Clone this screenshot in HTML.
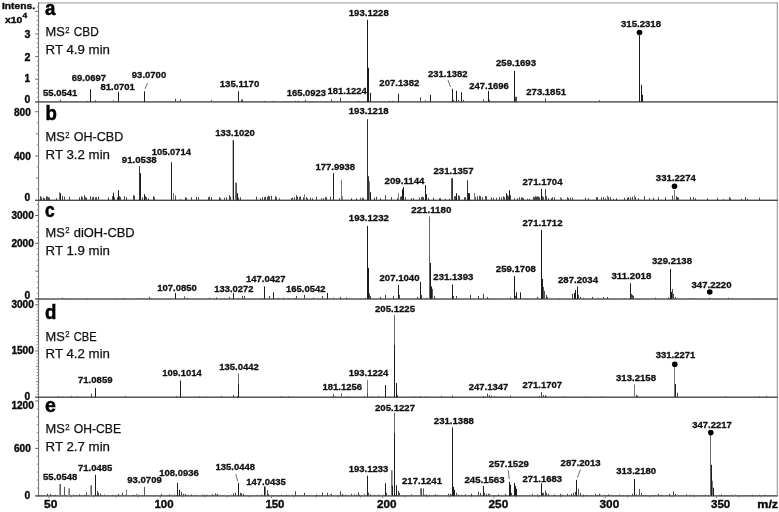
<!DOCTYPE html>
<html><head><meta charset="utf-8"><title>MS2 spectra</title>
<style>
html,body{margin:0;padding:0;background:#fff;}
svg{display:block;}
text{font-family:"Liberation Sans",sans-serif;}
.pl{font-weight:bold;fill:#111;stroke:#111;stroke-width:0.3;}
.al{font-weight:bold;fill:#0a0a0a;stroke:#0a0a0a;stroke-width:0.35;}
.bg{font-weight:bold;fill:#000;stroke:#000;stroke-width:0.5;}
.tt{font-size:13px;fill:#111;stroke:#111;stroke-width:0.25;}
</style></head><body>
<svg width="779" height="512" viewBox="0 0 779 512">
<rect x="0" y="0" width="779" height="512" fill="#fff"/>
<rect x="38" y="2.2" width="739.80" height="1.4" fill="#b4b4b4"/>
<rect x="776.80" y="2.2" width="1" height="493.60" fill="#8c8c8c"/>
<rect x="38.00" y="2.2" width="1.1" height="494.20" fill="#777"/>
<rect x="35.2" y="101.20" width="742.60" height="1.4" fill="#4a4a4a"/>
<rect x="35.2" y="199.60" width="742.60" height="1.4" fill="#4a4a4a"/>
<rect x="35.2" y="298.30" width="742.60" height="1.4" fill="#4a4a4a"/>
<rect x="35.2" y="396.50" width="742.60" height="1.4" fill="#4a4a4a"/>
<rect x="35.2" y="495.20" width="742.60" height="1.4" fill="#4a4a4a"/>
<rect x="36.70" y="96.78" width="1.80" height="1" fill="#8a8a8a"/>
<rect x="36.70" y="92.26" width="1.80" height="1" fill="#8a8a8a"/>
<rect x="36.70" y="87.74" width="1.80" height="1" fill="#8a8a8a"/>
<rect x="36.70" y="83.22" width="1.80" height="1" fill="#8a8a8a"/>
<rect x="35.20" y="78.70" width="3.30" height="1" fill="#666"/>
<rect x="36.70" y="74.18" width="1.80" height="1" fill="#8a8a8a"/>
<rect x="36.70" y="69.66" width="1.80" height="1" fill="#8a8a8a"/>
<rect x="36.70" y="65.14" width="1.80" height="1" fill="#8a8a8a"/>
<rect x="36.70" y="60.62" width="1.80" height="1" fill="#8a8a8a"/>
<rect x="35.20" y="56.10" width="3.30" height="1" fill="#666"/>
<rect x="36.70" y="51.58" width="1.80" height="1" fill="#8a8a8a"/>
<rect x="36.70" y="47.06" width="1.80" height="1" fill="#8a8a8a"/>
<rect x="36.70" y="42.54" width="1.80" height="1" fill="#8a8a8a"/>
<rect x="36.70" y="38.02" width="1.80" height="1" fill="#8a8a8a"/>
<rect x="35.20" y="33.50" width="3.30" height="1" fill="#666"/>
<rect x="36.70" y="28.98" width="1.80" height="1" fill="#8a8a8a"/>
<rect x="36.70" y="24.46" width="1.80" height="1" fill="#8a8a8a"/>
<rect x="36.70" y="19.94" width="1.80" height="1" fill="#8a8a8a"/>
<rect x="36.70" y="15.42" width="1.80" height="1" fill="#8a8a8a"/>
<rect x="35.20" y="10.90" width="3.30" height="1" fill="#666"/>
<rect x="36.70" y="6.38" width="1.80" height="1" fill="#8a8a8a"/>
<rect x="36.70" y="188.64" width="1.80" height="1" fill="#8a8a8a"/>
<rect x="36.00" y="177.58" width="2.50" height="1" fill="#777"/>
<rect x="36.70" y="166.52" width="1.80" height="1" fill="#8a8a8a"/>
<rect x="35.20" y="155.46" width="3.30" height="1" fill="#666"/>
<rect x="36.70" y="144.40" width="1.80" height="1" fill="#8a8a8a"/>
<rect x="36.00" y="133.34" width="2.50" height="1" fill="#777"/>
<rect x="36.70" y="122.28" width="1.80" height="1" fill="#8a8a8a"/>
<rect x="35.20" y="111.22" width="3.30" height="1" fill="#666"/>
<rect x="36.70" y="292.84" width="1.80" height="1" fill="#8a8a8a"/>
<rect x="36.70" y="287.28" width="1.80" height="1" fill="#8a8a8a"/>
<rect x="36.70" y="281.72" width="1.80" height="1" fill="#8a8a8a"/>
<rect x="36.70" y="276.16" width="1.80" height="1" fill="#8a8a8a"/>
<rect x="35.20" y="270.60" width="3.30" height="1" fill="#666"/>
<rect x="36.70" y="265.04" width="1.80" height="1" fill="#8a8a8a"/>
<rect x="36.70" y="259.48" width="1.80" height="1" fill="#8a8a8a"/>
<rect x="36.70" y="253.92" width="1.80" height="1" fill="#8a8a8a"/>
<rect x="36.70" y="248.36" width="1.80" height="1" fill="#8a8a8a"/>
<rect x="35.20" y="242.80" width="3.30" height="1" fill="#666"/>
<rect x="36.70" y="237.24" width="1.80" height="1" fill="#8a8a8a"/>
<rect x="36.70" y="231.68" width="1.80" height="1" fill="#8a8a8a"/>
<rect x="36.70" y="226.12" width="1.80" height="1" fill="#8a8a8a"/>
<rect x="36.70" y="220.56" width="1.80" height="1" fill="#8a8a8a"/>
<rect x="35.20" y="215.00" width="3.30" height="1" fill="#666"/>
<rect x="36.70" y="209.44" width="1.80" height="1" fill="#8a8a8a"/>
<rect x="36.70" y="203.88" width="1.80" height="1" fill="#8a8a8a"/>
<rect x="36.70" y="393.52" width="1.80" height="1" fill="#8a8a8a"/>
<rect x="36.70" y="390.45" width="1.80" height="1" fill="#8a8a8a"/>
<rect x="36.70" y="387.37" width="1.80" height="1" fill="#8a8a8a"/>
<rect x="36.70" y="384.29" width="1.80" height="1" fill="#8a8a8a"/>
<rect x="36.00" y="381.22" width="2.50" height="1" fill="#777"/>
<rect x="36.70" y="378.14" width="1.80" height="1" fill="#8a8a8a"/>
<rect x="36.70" y="375.06" width="1.80" height="1" fill="#8a8a8a"/>
<rect x="36.70" y="371.99" width="1.80" height="1" fill="#8a8a8a"/>
<rect x="36.70" y="368.91" width="1.80" height="1" fill="#8a8a8a"/>
<rect x="36.00" y="365.83" width="2.50" height="1" fill="#777"/>
<rect x="36.70" y="362.76" width="1.80" height="1" fill="#8a8a8a"/>
<rect x="36.70" y="359.68" width="1.80" height="1" fill="#8a8a8a"/>
<rect x="36.70" y="356.60" width="1.80" height="1" fill="#8a8a8a"/>
<rect x="36.70" y="353.53" width="1.80" height="1" fill="#8a8a8a"/>
<rect x="35.20" y="350.45" width="3.30" height="1" fill="#666"/>
<rect x="36.70" y="347.37" width="1.80" height="1" fill="#8a8a8a"/>
<rect x="36.70" y="344.30" width="1.80" height="1" fill="#8a8a8a"/>
<rect x="36.70" y="341.22" width="1.80" height="1" fill="#8a8a8a"/>
<rect x="36.70" y="338.14" width="1.80" height="1" fill="#8a8a8a"/>
<rect x="36.00" y="335.07" width="2.50" height="1" fill="#777"/>
<rect x="36.70" y="331.99" width="1.80" height="1" fill="#8a8a8a"/>
<rect x="36.70" y="328.91" width="1.80" height="1" fill="#8a8a8a"/>
<rect x="36.70" y="325.84" width="1.80" height="1" fill="#8a8a8a"/>
<rect x="36.70" y="322.76" width="1.80" height="1" fill="#8a8a8a"/>
<rect x="36.00" y="319.68" width="2.50" height="1" fill="#777"/>
<rect x="36.70" y="316.61" width="1.80" height="1" fill="#8a8a8a"/>
<rect x="36.70" y="313.53" width="1.80" height="1" fill="#8a8a8a"/>
<rect x="36.70" y="310.45" width="1.80" height="1" fill="#8a8a8a"/>
<rect x="36.70" y="307.38" width="1.80" height="1" fill="#8a8a8a"/>
<rect x="35.20" y="304.30" width="3.30" height="1" fill="#666"/>
<rect x="36.70" y="301.22" width="1.80" height="1" fill="#8a8a8a"/>
<rect x="36.70" y="487.40" width="1.80" height="1" fill="#8a8a8a"/>
<rect x="36.70" y="479.50" width="1.80" height="1" fill="#8a8a8a"/>
<rect x="36.70" y="471.60" width="1.80" height="1" fill="#8a8a8a"/>
<rect x="36.70" y="463.70" width="1.80" height="1" fill="#8a8a8a"/>
<rect x="36.70" y="455.80" width="1.80" height="1" fill="#8a8a8a"/>
<rect x="35.20" y="447.90" width="3.30" height="1" fill="#666"/>
<rect x="36.70" y="440.00" width="1.80" height="1" fill="#8a8a8a"/>
<rect x="36.70" y="432.10" width="1.80" height="1" fill="#8a8a8a"/>
<rect x="36.70" y="424.20" width="1.80" height="1" fill="#8a8a8a"/>
<rect x="36.70" y="416.30" width="1.80" height="1" fill="#8a8a8a"/>
<rect x="36.70" y="408.40" width="1.80" height="1" fill="#8a8a8a"/>
<rect x="35.20" y="400.50" width="3.30" height="1" fill="#666"/>
<rect x="48.50" y="496.30" width="1" height="1.8" fill="#777"/>
<rect x="70.75" y="496.30" width="1" height="1.2" fill="#777"/>
<rect x="93.00" y="496.30" width="1" height="1.2" fill="#777"/>
<rect x="115.25" y="496.30" width="1" height="1.2" fill="#777"/>
<rect x="137.50" y="496.30" width="1" height="1.2" fill="#777"/>
<rect x="159.75" y="496.30" width="1" height="1.8" fill="#777"/>
<rect x="182.00" y="496.30" width="1" height="1.2" fill="#777"/>
<rect x="204.25" y="496.30" width="1" height="1.2" fill="#777"/>
<rect x="226.50" y="496.30" width="1" height="1.2" fill="#777"/>
<rect x="248.75" y="496.30" width="1" height="1.2" fill="#777"/>
<rect x="271.00" y="496.30" width="1" height="1.8" fill="#777"/>
<rect x="293.25" y="496.30" width="1" height="1.2" fill="#777"/>
<rect x="315.50" y="496.30" width="1" height="1.2" fill="#777"/>
<rect x="337.75" y="496.30" width="1" height="1.2" fill="#777"/>
<rect x="360.00" y="496.30" width="1" height="1.2" fill="#777"/>
<rect x="382.25" y="496.30" width="1" height="1.8" fill="#777"/>
<rect x="404.50" y="496.30" width="1" height="1.2" fill="#777"/>
<rect x="426.75" y="496.30" width="1" height="1.2" fill="#777"/>
<rect x="449.00" y="496.30" width="1" height="1.2" fill="#777"/>
<rect x="471.25" y="496.30" width="1" height="1.2" fill="#777"/>
<rect x="493.50" y="496.30" width="1" height="1.8" fill="#777"/>
<rect x="515.75" y="496.30" width="1" height="1.2" fill="#777"/>
<rect x="538.00" y="496.30" width="1" height="1.2" fill="#777"/>
<rect x="560.25" y="496.30" width="1" height="1.2" fill="#777"/>
<rect x="582.50" y="496.30" width="1" height="1.2" fill="#777"/>
<rect x="604.75" y="496.30" width="1" height="1.8" fill="#777"/>
<rect x="627.00" y="496.30" width="1" height="1.2" fill="#777"/>
<rect x="649.25" y="496.30" width="1" height="1.2" fill="#777"/>
<rect x="671.50" y="496.30" width="1" height="1.2" fill="#777"/>
<rect x="693.75" y="496.30" width="1" height="1.2" fill="#777"/>
<rect x="716.00" y="496.30" width="1" height="1.8" fill="#777"/>
<rect x="738.25" y="496.30" width="1" height="1.2" fill="#777"/>
<rect x="760.50" y="496.30" width="1" height="1.2" fill="#777"/>
<text x="2.00" y="9.10" textLength="33.00" lengthAdjust="spacingAndGlyphs" class="al" font-size="9.3">Intens.</text>
<text x="5.00" y="23.40" textLength="17.40" lengthAdjust="spacingAndGlyphs" class="al" font-size="9.5">x10</text>
<text x="22.60" y="18.20" textLength="4.60" lengthAdjust="spacingAndGlyphs" class="al" font-size="6.8">4</text>
<text x="24.40" y="37.60" textLength="6.00" lengthAdjust="spacingAndGlyphs" class="al" font-size="10.0">3</text>
<text x="24.40" y="60.50" textLength="6.00" lengthAdjust="spacingAndGlyphs" class="al" font-size="10.0">2</text>
<text x="24.60" y="82.30" textLength="5.60" lengthAdjust="spacingAndGlyphs" class="al" font-size="10.0">1</text>
<text x="24.50" y="102.80" textLength="5.80" lengthAdjust="spacingAndGlyphs" class="al" font-size="10.0">0</text>
<text x="14.00" y="115.70" textLength="16.80" lengthAdjust="spacingAndGlyphs" class="al" font-size="10.0">800</text>
<text x="14.00" y="159.50" textLength="16.80" lengthAdjust="spacingAndGlyphs" class="al" font-size="10.0">400</text>
<text x="24.60" y="201.00" textLength="5.70" lengthAdjust="spacingAndGlyphs" class="al" font-size="10.0">0</text>
<text x="11.40" y="218.70" textLength="22.40" lengthAdjust="spacingAndGlyphs" class="al" font-size="10.0">3000</text>
<text x="11.40" y="246.80" textLength="22.40" lengthAdjust="spacingAndGlyphs" class="al" font-size="10.0">2000</text>
<text x="24.60" y="298.80" textLength="5.70" lengthAdjust="spacingAndGlyphs" class="al" font-size="10.0">0</text>
<text x="11.40" y="308.10" textLength="22.40" lengthAdjust="spacingAndGlyphs" class="al" font-size="10.0">3000</text>
<text x="11.40" y="354.30" textLength="22.40" lengthAdjust="spacingAndGlyphs" class="al" font-size="10.0">1500</text>
<text x="24.60" y="399.60" textLength="5.70" lengthAdjust="spacingAndGlyphs" class="al" font-size="10.0">0</text>
<text x="11.40" y="408.80" textLength="22.40" lengthAdjust="spacingAndGlyphs" class="al" font-size="10.0">1200</text>
<text x="14.00" y="451.80" textLength="16.80" lengthAdjust="spacingAndGlyphs" class="al" font-size="10.0">600</text>
<text x="24.60" y="499.00" textLength="5.70" lengthAdjust="spacingAndGlyphs" class="al" font-size="10.0">0</text>
<text x="44.10" y="508.10" textLength="13.30" lengthAdjust="spacingAndGlyphs" class="al" font-size="11.0">50</text>
<text x="154.50" y="508.10" textLength="19.10" lengthAdjust="spacingAndGlyphs" class="al" font-size="11.0">100</text>
<text x="265.40" y="508.10" textLength="19.10" lengthAdjust="spacingAndGlyphs" class="al" font-size="11.0">150</text>
<text x="376.90" y="508.10" textLength="19.50" lengthAdjust="spacingAndGlyphs" class="al" font-size="11.0">200</text>
<text x="488.50" y="508.10" textLength="19.80" lengthAdjust="spacingAndGlyphs" class="al" font-size="11.0">250</text>
<text x="599.50" y="508.10" textLength="19.70" lengthAdjust="spacingAndGlyphs" class="al" font-size="11.0">300</text>
<text x="711.00" y="508.10" textLength="19.30" lengthAdjust="spacingAndGlyphs" class="al" font-size="11.0">350</text>
<text x="757.30" y="508.00" textLength="20.80" lengthAdjust="spacingAndGlyphs" class="al" font-size="10.8">m/z</text>
<text x="45.00" y="15.40" textLength="10.40" lengthAdjust="spacingAndGlyphs" class="bg" font-size="20">a</text>
<text x="45.6" y="35.80" textLength="19.2" lengthAdjust="spacingAndGlyphs" class="tt">MS</text>
<text x="65.2" y="32.50" textLength="4.3" lengthAdjust="spacingAndGlyphs" class="tt" style="font-size:9px">2</text>
<text x="73.8" y="35.80" textLength="25.00" lengthAdjust="spacingAndGlyphs" class="tt">CBD</text>
<text x="45.6" y="54.20" textLength="64.4" lengthAdjust="spacingAndGlyphs" class="tt">RT 4.9 min</text>
<text x="45.40" y="120.00" textLength="11.40" lengthAdjust="spacingAndGlyphs" class="bg" font-size="20">b</text>
<text x="45.6" y="141.20" textLength="19.2" lengthAdjust="spacingAndGlyphs" class="tt">MS</text>
<text x="65.2" y="137.90" textLength="4.3" lengthAdjust="spacingAndGlyphs" class="tt" style="font-size:9px">2</text>
<text x="73.8" y="141.20" textLength="49.50" lengthAdjust="spacingAndGlyphs" class="tt">OH-CBD</text>
<text x="45.6" y="159.00" textLength="64.4" lengthAdjust="spacingAndGlyphs" class="tt">RT 3.2 min</text>
<text x="45.00" y="216.80" textLength="9.70" lengthAdjust="spacingAndGlyphs" class="bg" font-size="20">c</text>
<text x="45.6" y="236.70" textLength="19.2" lengthAdjust="spacingAndGlyphs" class="tt">MS</text>
<text x="65.2" y="233.40" textLength="4.3" lengthAdjust="spacingAndGlyphs" class="tt" style="font-size:9px">2</text>
<text x="73.8" y="236.70" textLength="60.90" lengthAdjust="spacingAndGlyphs" class="tt">diOH-CBD</text>
<text x="45.6" y="255.00" textLength="64.4" lengthAdjust="spacingAndGlyphs" class="tt">RT 1.9 min</text>
<text x="45.00" y="319.30" textLength="11.40" lengthAdjust="spacingAndGlyphs" class="bg" font-size="20">d</text>
<text x="45.6" y="340.50" textLength="19.2" lengthAdjust="spacingAndGlyphs" class="tt">MS</text>
<text x="65.2" y="337.20" textLength="4.3" lengthAdjust="spacingAndGlyphs" class="tt" style="font-size:9px">2</text>
<text x="73.8" y="340.50" textLength="22.90" lengthAdjust="spacingAndGlyphs" class="tt">CBE</text>
<text x="45.6" y="358.30" textLength="64.4" lengthAdjust="spacingAndGlyphs" class="tt">RT 4.2 min</text>
<text x="45.00" y="412.40" textLength="10.90" lengthAdjust="spacingAndGlyphs" class="bg" font-size="20">e</text>
<text x="45.6" y="432.80" textLength="19.2" lengthAdjust="spacingAndGlyphs" class="tt">MS</text>
<text x="65.2" y="429.50" textLength="4.3" lengthAdjust="spacingAndGlyphs" class="tt" style="font-size:9px">2</text>
<text x="73.8" y="432.80" textLength="47.20" lengthAdjust="spacingAndGlyphs" class="tt">OH-CBE</text>
<text x="45.6" y="451.20" textLength="64.4" lengthAdjust="spacingAndGlyphs" class="tt">RT 2.7 min</text>
<rect x="60" y="99.80" width="1" height="2.00" fill="#484848"/>
<rect x="87" y="100.80" width="1" height="1.00" fill="#484848"/>
<rect x="90" y="89.30" width="1" height="12.50" fill="#1c1c1c"/>
<rect x="95" y="100.30" width="1" height="1.50" fill="#484848"/>
<rect x="113" y="100.30" width="1" height="1.50" fill="#484848"/>
<rect x="118" y="91.80" width="1" height="10.00" fill="#1c1c1c"/>
<rect x="144" y="91.30" width="1" height="10.50" fill="#1c1c1c"/>
<rect x="175" y="98.80" width="1" height="3.00" fill="#484848"/>
<rect x="180" y="99.30" width="1" height="2.50" fill="#484848"/>
<rect x="211" y="100.30" width="1" height="1.50" fill="#484848"/>
<rect x="238" y="91.30" width="1" height="10.50" fill="#1c1c1c"/>
<rect x="241" y="99.80" width="1" height="2.00" fill="#484848"/>
<rect x="242" y="99.30" width="1" height="2.50" fill="#484848"/>
<rect x="264" y="100.80" width="1" height="1.00" fill="#484848"/>
<rect x="273" y="100.80" width="1" height="1.00" fill="#484848"/>
<rect x="295" y="100.80" width="1" height="1.00" fill="#484848"/>
<rect x="298" y="100.80" width="1" height="1.00" fill="#484848"/>
<rect x="305" y="99.80" width="1" height="2.00" fill="#484848"/>
<rect x="331" y="99.30" width="1" height="2.50" fill="#484848"/>
<rect x="340" y="97.80" width="1" height="4.00" fill="#484848"/>
<rect x="358" y="100.80" width="1" height="1.00" fill="#484848"/>
<rect x="367" y="19.80" width="1" height="82.00" fill="#1c1c1c"/>
<rect x="368" y="67.80" width="1" height="34.00" fill="#1c1c1c"/>
<rect x="370" y="92.80" width="1" height="9.00" fill="#1c1c1c"/>
<rect x="389" y="100.80" width="1" height="1.00" fill="#484848"/>
<rect x="392" y="100.80" width="1" height="1.00" fill="#484848"/>
<rect x="398" y="93.80" width="1" height="8.00" fill="#1c1c1c"/>
<rect x="420" y="97.30" width="1" height="4.50" fill="#484848"/>
<rect x="425" y="100.30" width="1" height="1.50" fill="#484848"/>
<rect x="430" y="94.80" width="1" height="7.00" fill="#1c1c1c"/>
<rect x="452" y="88.80" width="1" height="13.00" fill="#1c1c1c"/>
<rect x="453" y="99.80" width="1" height="2.00" fill="#484848"/>
<rect x="456" y="90.80" width="1" height="11.00" fill="#1c1c1c"/>
<rect x="458" y="99.80" width="1" height="2.00" fill="#484848"/>
<rect x="461" y="92.30" width="1" height="9.50" fill="#1c1c1c"/>
<rect x="463" y="99.80" width="1" height="2.00" fill="#484848"/>
<rect x="483" y="99.30" width="1" height="2.50" fill="#484848"/>
<rect x="488" y="90.80" width="1" height="11.00" fill="#1c1c1c"/>
<rect x="489" y="99.80" width="1" height="2.00" fill="#484848"/>
<rect x="514" y="70.80" width="1" height="31.00" fill="#1c1c1c"/>
<rect x="515" y="96.80" width="1" height="5.00" fill="#484848"/>
<rect x="516" y="96.80" width="1" height="5.00" fill="#484848"/>
<rect x="545" y="98.30" width="1" height="3.50" fill="#484848"/>
<rect x="599" y="100.30" width="1" height="1.50" fill="#484848"/>
<rect x="639" y="35.30" width="1" height="66.50" fill="#1c1c1c"/>
<rect x="641" y="84.80" width="1" height="17.00" fill="#1c1c1c"/>
<rect x="642" y="94.80" width="1" height="7.00" fill="#1c1c1c"/>
<text x="43.00" y="95.50" textLength="34.30" lengthAdjust="spacingAndGlyphs" class="pl" font-size="9.6">55.0541</text>
<text x="71.80" y="80.50" textLength="34.30" lengthAdjust="spacingAndGlyphs" class="pl" font-size="9.6">69.0697</text>
<text x="100.50" y="89.50" textLength="34.40" lengthAdjust="spacingAndGlyphs" class="pl" font-size="9.6">81.0701</text>
<text x="131.80" y="77.50" textLength="34.40" lengthAdjust="spacingAndGlyphs" class="pl" font-size="9.6">93.0700</text>
<line x1="147.50" y1="83.00" x2="145.00" y2="88.80" stroke="#333" stroke-width="0.7"/>
<text x="219.70" y="87.00" textLength="39.60" lengthAdjust="spacingAndGlyphs" class="pl" font-size="9.6">135.1170</text>
<text x="286.70" y="96.20" textLength="39.30" lengthAdjust="spacingAndGlyphs" class="pl" font-size="9.6">165.0923</text>
<text x="327.50" y="94.20" textLength="39.30" lengthAdjust="spacingAndGlyphs" class="pl" font-size="9.6">181.1224</text>
<text x="348.80" y="16.20" textLength="39.90" lengthAdjust="spacingAndGlyphs" class="pl" font-size="9.6">193.1228</text>
<text x="379.30" y="85.80" textLength="40.00" lengthAdjust="spacingAndGlyphs" class="pl" font-size="9.6">207.1382</text>
<text x="428.00" y="76.80" textLength="39.60" lengthAdjust="spacingAndGlyphs" class="pl" font-size="9.6">231.1382</text>
<line x1="448.00" y1="80.00" x2="450.50" y2="87.00" stroke="#333" stroke-width="0.7"/>
<text x="469.30" y="89.00" textLength="39.50" lengthAdjust="spacingAndGlyphs" class="pl" font-size="9.6">247.1696</text>
<text x="496.00" y="66.30" textLength="40.00" lengthAdjust="spacingAndGlyphs" class="pl" font-size="9.6">259.1693</text>
<text x="526.30" y="94.50" textLength="39.70" lengthAdjust="spacingAndGlyphs" class="pl" font-size="9.6">273.1851</text>
<text x="621.00" y="26.80" textLength="40.00" lengthAdjust="spacingAndGlyphs" class="pl" font-size="9.6">315.2318</text>
<circle cx="639.50" cy="32.50" r="2.8" fill="#000"/>
<rect x="40" y="196.20" width="1" height="4.00" fill="#484848"/>
<rect x="41" y="197.20" width="1" height="3.00" fill="#484848"/>
<rect x="43" y="197.70" width="1" height="2.50" fill="#484848"/>
<rect x="44" y="198.20" width="1" height="2.00" fill="#484848"/>
<rect x="46" y="196.20" width="1" height="4.00" fill="#484848"/>
<rect x="47" y="196.70" width="1" height="3.50" fill="#484848"/>
<rect x="48" y="197.20" width="1" height="3.00" fill="#484848"/>
<rect x="49" y="197.70" width="1" height="2.50" fill="#484848"/>
<rect x="56" y="198.20" width="1" height="2.00" fill="#484848"/>
<rect x="59" y="192.20" width="1" height="8.00" fill="#777"/>
<rect x="60" y="193.20" width="1" height="7.00" fill="#1c1c1c"/>
<rect x="62" y="195.70" width="1" height="4.50" fill="#484848"/>
<rect x="64" y="196.70" width="1" height="3.50" fill="#484848"/>
<rect x="69" y="196.70" width="1" height="3.50" fill="#484848"/>
<rect x="79" y="197.20" width="1" height="3.00" fill="#484848"/>
<rect x="81" y="196.20" width="1" height="4.00" fill="#484848"/>
<rect x="82" y="197.20" width="1" height="3.00" fill="#484848"/>
<rect x="84" y="195.20" width="1" height="5.00" fill="#484848"/>
<rect x="85" y="197.20" width="1" height="3.00" fill="#484848"/>
<rect x="86" y="197.70" width="1" height="2.50" fill="#484848"/>
<rect x="90" y="196.20" width="1" height="4.00" fill="#484848"/>
<rect x="92" y="197.20" width="1" height="3.00" fill="#484848"/>
<rect x="93" y="196.70" width="1" height="3.50" fill="#484848"/>
<rect x="95" y="197.20" width="1" height="3.00" fill="#484848"/>
<rect x="96" y="197.20" width="1" height="3.00" fill="#484848"/>
<rect x="98" y="196.70" width="1" height="3.50" fill="#484848"/>
<rect x="108" y="197.20" width="1" height="3.00" fill="#484848"/>
<rect x="112" y="196.20" width="1" height="4.00" fill="#484848"/>
<rect x="113" y="192.70" width="1" height="7.50" fill="#1c1c1c"/>
<rect x="114" y="197.20" width="1" height="3.00" fill="#484848"/>
<rect x="117" y="197.20" width="1" height="3.00" fill="#484848"/>
<rect x="118" y="190.20" width="1" height="10.00" fill="#1c1c1c"/>
<rect x="119" y="196.20" width="1" height="4.00" fill="#484848"/>
<rect x="120" y="197.20" width="1" height="3.00" fill="#484848"/>
<rect x="124" y="196.20" width="1" height="4.00" fill="#484848"/>
<rect x="126" y="197.20" width="1" height="3.00" fill="#484848"/>
<rect x="133" y="195.20" width="1" height="5.00" fill="#484848"/>
<rect x="134" y="195.70" width="1" height="4.50" fill="#484848"/>
<rect x="139" y="166.20" width="1" height="34.00" fill="#333"/>
<rect x="140" y="173.20" width="1" height="27.00" fill="#1c1c1c"/>
<rect x="142" y="197.20" width="1" height="3.00" fill="#484848"/>
<rect x="144" y="194.20" width="1" height="6.00" fill="#1c1c1c"/>
<rect x="145" y="196.20" width="1" height="4.00" fill="#484848"/>
<rect x="146" y="197.20" width="1" height="3.00" fill="#484848"/>
<rect x="148" y="198.20" width="1" height="2.00" fill="#484848"/>
<rect x="153" y="196.20" width="1" height="4.00" fill="#484848"/>
<rect x="154" y="197.20" width="1" height="3.00" fill="#484848"/>
<rect x="171" y="162.20" width="1" height="38.00" fill="#222"/>
<rect x="173" y="193.20" width="1" height="7.00" fill="#777"/>
<rect x="175" y="195.20" width="1" height="5.00" fill="#777"/>
<rect x="175" y="197.20" width="1" height="3.00" fill="#484848"/>
<rect x="180" y="199.20" width="1" height="1.00" fill="#484848"/>
<rect x="185" y="197.20" width="1" height="3.00" fill="#484848"/>
<rect x="186" y="197.70" width="1" height="2.50" fill="#484848"/>
<rect x="191" y="197.20" width="1" height="3.00" fill="#484848"/>
<rect x="196" y="196.70" width="1" height="3.50" fill="#484848"/>
<rect x="198" y="197.20" width="1" height="3.00" fill="#484848"/>
<rect x="208" y="197.20" width="1" height="3.00" fill="#484848"/>
<rect x="209" y="196.70" width="1" height="3.50" fill="#484848"/>
<rect x="211" y="197.20" width="1" height="3.00" fill="#484848"/>
<rect x="219" y="197.20" width="1" height="3.00" fill="#484848"/>
<rect x="220" y="198.20" width="1" height="2.00" fill="#484848"/>
<rect x="224" y="197.70" width="1" height="2.50" fill="#484848"/>
<rect x="226" y="197.20" width="1" height="3.00" fill="#484848"/>
<rect x="229" y="195.20" width="1" height="5.00" fill="#484848"/>
<rect x="230" y="196.70" width="1" height="3.50" fill="#484848"/>
<rect x="232" y="197.20" width="1" height="3.00" fill="#484848"/>
<rect x="232" y="140.20" width="1" height="60.00" fill="#bbb"/>
<rect x="233" y="140.20" width="1" height="60.00" fill="#222"/>
<rect x="235" y="182.70" width="1" height="17.50" fill="#777"/>
<rect x="236" y="182.70" width="1" height="17.50" fill="#555"/>
<rect x="237" y="193.20" width="1" height="7.00" fill="#1c1c1c"/>
<rect x="238" y="197.70" width="1" height="2.50" fill="#484848"/>
<rect x="240" y="197.20" width="1" height="3.00" fill="#484848"/>
<rect x="256" y="196.70" width="1" height="3.50" fill="#484848"/>
<rect x="260" y="198.20" width="1" height="2.00" fill="#484848"/>
<rect x="262" y="197.20" width="1" height="3.00" fill="#484848"/>
<rect x="264" y="197.20" width="1" height="3.00" fill="#484848"/>
<rect x="265" y="196.70" width="1" height="3.50" fill="#484848"/>
<rect x="267" y="197.20" width="1" height="3.00" fill="#484848"/>
<rect x="268" y="195.70" width="1" height="4.50" fill="#484848"/>
<rect x="269" y="196.20" width="1" height="4.00" fill="#484848"/>
<rect x="271" y="195.70" width="1" height="4.50" fill="#484848"/>
<rect x="275" y="196.20" width="1" height="4.00" fill="#484848"/>
<rect x="276" y="197.20" width="1" height="3.00" fill="#484848"/>
<rect x="279" y="198.20" width="1" height="2.00" fill="#484848"/>
<rect x="291" y="198.20" width="1" height="2.00" fill="#484848"/>
<rect x="292" y="197.70" width="1" height="2.50" fill="#484848"/>
<rect x="294" y="197.20" width="1" height="3.00" fill="#484848"/>
<rect x="296" y="195.20" width="1" height="5.00" fill="#484848"/>
<rect x="297" y="196.70" width="1" height="3.50" fill="#484848"/>
<rect x="299" y="197.20" width="1" height="3.00" fill="#484848"/>
<rect x="300" y="196.20" width="1" height="4.00" fill="#484848"/>
<rect x="303" y="197.20" width="1" height="3.00" fill="#484848"/>
<rect x="304" y="194.20" width="1" height="6.00" fill="#777"/>
<rect x="306" y="197.20" width="1" height="3.00" fill="#484848"/>
<rect x="307" y="198.20" width="1" height="2.00" fill="#484848"/>
<rect x="310" y="197.70" width="1" height="2.50" fill="#484848"/>
<rect x="312" y="198.20" width="1" height="2.00" fill="#484848"/>
<rect x="316" y="196.70" width="1" height="3.50" fill="#484848"/>
<rect x="321" y="198.20" width="1" height="2.00" fill="#484848"/>
<rect x="323" y="198.20" width="1" height="2.00" fill="#484848"/>
<rect x="325" y="197.20" width="1" height="3.00" fill="#484848"/>
<rect x="326" y="197.20" width="1" height="3.00" fill="#484848"/>
<rect x="330" y="196.70" width="1" height="3.50" fill="#484848"/>
<rect x="333" y="173.20" width="1" height="27.00" fill="#222"/>
<rect x="339" y="198.20" width="1" height="2.00" fill="#484848"/>
<rect x="341" y="179.70" width="1" height="20.50" fill="#777"/>
<rect x="342" y="196.20" width="1" height="4.00" fill="#777"/>
<rect x="351" y="198.20" width="1" height="2.00" fill="#484848"/>
<rect x="356" y="198.20" width="1" height="2.00" fill="#484848"/>
<rect x="360" y="197.70" width="1" height="2.50" fill="#484848"/>
<rect x="362" y="197.70" width="1" height="2.50" fill="#484848"/>
<rect x="363" y="198.20" width="1" height="2.00" fill="#484848"/>
<rect x="367" y="119.20" width="1" height="81.00" fill="#333"/>
<rect x="368" y="176.20" width="1" height="24.00" fill="#333"/>
<rect x="369" y="181.20" width="1" height="19.00" fill="#777"/>
<rect x="370" y="192.20" width="1" height="8.00" fill="#1c1c1c"/>
<rect x="374" y="197.70" width="1" height="2.50" fill="#484848"/>
<rect x="376" y="196.70" width="1" height="3.50" fill="#484848"/>
<rect x="380" y="198.20" width="1" height="2.00" fill="#484848"/>
<rect x="385" y="195.20" width="1" height="5.00" fill="#484848"/>
<rect x="391" y="197.20" width="1" height="3.00" fill="#484848"/>
<rect x="397" y="198.20" width="1" height="2.00" fill="#484848"/>
<rect x="398" y="193.20" width="1" height="7.00" fill="#777"/>
<rect x="400" y="196.70" width="1" height="3.50" fill="#484848"/>
<rect x="401" y="196.20" width="1" height="4.00" fill="#484848"/>
<rect x="402" y="189.20" width="1" height="11.00" fill="#1c1c1c"/>
<rect x="403" y="187.20" width="1" height="13.00" fill="#1c1c1c"/>
<rect x="405" y="197.20" width="1" height="3.00" fill="#484848"/>
<rect x="411" y="198.20" width="1" height="2.00" fill="#484848"/>
<rect x="413" y="198.20" width="1" height="2.00" fill="#484848"/>
<rect x="419" y="197.70" width="1" height="2.50" fill="#484848"/>
<rect x="421" y="197.20" width="1" height="3.00" fill="#484848"/>
<rect x="422" y="196.70" width="1" height="3.50" fill="#484848"/>
<rect x="423" y="197.20" width="1" height="3.00" fill="#484848"/>
<rect x="425" y="185.20" width="1" height="15.00" fill="#1c1c1c"/>
<rect x="426" y="194.20" width="1" height="6.00" fill="#1c1c1c"/>
<rect x="428" y="197.70" width="1" height="2.50" fill="#484848"/>
<rect x="433" y="197.70" width="1" height="2.50" fill="#484848"/>
<rect x="439" y="198.20" width="1" height="2.00" fill="#484848"/>
<rect x="440" y="198.20" width="1" height="2.00" fill="#484848"/>
<rect x="445" y="198.70" width="1" height="1.50" fill="#484848"/>
<rect x="449" y="198.70" width="1" height="1.50" fill="#484848"/>
<rect x="451" y="178.20" width="1" height="22.00" fill="#555"/>
<rect x="452" y="178.20" width="1" height="22.00" fill="#333"/>
<rect x="454" y="196.20" width="1" height="4.00" fill="#484848"/>
<rect x="455" y="196.20" width="1" height="4.00" fill="#484848"/>
<rect x="456" y="193.20" width="1" height="7.00" fill="#1c1c1c"/>
<rect x="458" y="195.20" width="1" height="5.00" fill="#484848"/>
<rect x="459" y="196.20" width="1" height="4.00" fill="#484848"/>
<rect x="464" y="197.20" width="1" height="3.00" fill="#484848"/>
<rect x="465" y="197.20" width="1" height="3.00" fill="#484848"/>
<rect x="467" y="180.20" width="1" height="20.00" fill="#333"/>
<rect x="468" y="193.20" width="1" height="7.00" fill="#1c1c1c"/>
<rect x="469" y="193.20" width="1" height="7.00" fill="#1c1c1c"/>
<rect x="474" y="193.20" width="1" height="7.00" fill="#777"/>
<rect x="475" y="197.20" width="1" height="3.00" fill="#484848"/>
<rect x="477" y="196.20" width="1" height="4.00" fill="#484848"/>
<rect x="479" y="195.70" width="1" height="4.50" fill="#484848"/>
<rect x="480" y="196.20" width="1" height="4.00" fill="#484848"/>
<rect x="482" y="197.20" width="1" height="3.00" fill="#484848"/>
<rect x="485" y="196.20" width="1" height="4.00" fill="#484848"/>
<rect x="486" y="196.20" width="1" height="4.00" fill="#484848"/>
<rect x="491" y="197.20" width="1" height="3.00" fill="#484848"/>
<rect x="493" y="197.70" width="1" height="2.50" fill="#484848"/>
<rect x="496" y="197.70" width="1" height="2.50" fill="#484848"/>
<rect x="499" y="197.20" width="1" height="3.00" fill="#484848"/>
<rect x="501" y="197.20" width="1" height="3.00" fill="#484848"/>
<rect x="503" y="196.20" width="1" height="4.00" fill="#484848"/>
<rect x="504" y="197.20" width="1" height="3.00" fill="#484848"/>
<rect x="506" y="193.20" width="1" height="7.00" fill="#1c1c1c"/>
<rect x="507" y="195.20" width="1" height="5.00" fill="#484848"/>
<rect x="508" y="196.20" width="1" height="4.00" fill="#484848"/>
<rect x="509" y="190.20" width="1" height="10.00" fill="#1c1c1c"/>
<rect x="510" y="195.20" width="1" height="5.00" fill="#484848"/>
<rect x="514" y="198.20" width="1" height="2.00" fill="#484848"/>
<rect x="517" y="198.20" width="1" height="2.00" fill="#484848"/>
<rect x="519" y="197.20" width="1" height="3.00" fill="#484848"/>
<rect x="521" y="197.20" width="1" height="3.00" fill="#484848"/>
<rect x="522" y="197.70" width="1" height="2.50" fill="#484848"/>
<rect x="523" y="198.20" width="1" height="2.00" fill="#484848"/>
<rect x="527" y="198.70" width="1" height="1.50" fill="#484848"/>
<rect x="529" y="198.70" width="1" height="1.50" fill="#484848"/>
<rect x="533" y="196.70" width="1" height="3.50" fill="#484848"/>
<rect x="534" y="197.20" width="1" height="3.00" fill="#484848"/>
<rect x="535" y="196.20" width="1" height="4.00" fill="#484848"/>
<rect x="536" y="196.70" width="1" height="3.50" fill="#484848"/>
<rect x="537" y="196.20" width="1" height="4.00" fill="#484848"/>
<rect x="538" y="196.70" width="1" height="3.50" fill="#484848"/>
<rect x="539" y="197.20" width="1" height="3.00" fill="#484848"/>
<rect x="541" y="188.70" width="1" height="11.50" fill="#1c1c1c"/>
<rect x="542" y="196.20" width="1" height="4.00" fill="#484848"/>
<rect x="543" y="197.20" width="1" height="3.00" fill="#484848"/>
<rect x="545" y="189.20" width="1" height="11.00" fill="#444"/>
<rect x="546" y="196.20" width="1" height="4.00" fill="#484848"/>
<rect x="548" y="198.20" width="1" height="2.00" fill="#484848"/>
<rect x="551" y="198.20" width="1" height="2.00" fill="#484848"/>
<rect x="552" y="197.20" width="1" height="3.00" fill="#484848"/>
<rect x="554" y="197.20" width="1" height="3.00" fill="#484848"/>
<rect x="560" y="197.20" width="1" height="3.00" fill="#777"/>
<rect x="561" y="198.20" width="1" height="2.00" fill="#484848"/>
<rect x="567" y="197.20" width="1" height="3.00" fill="#484848"/>
<rect x="568" y="198.20" width="1" height="2.00" fill="#484848"/>
<rect x="570" y="197.70" width="1" height="2.50" fill="#484848"/>
<rect x="572" y="197.70" width="1" height="2.50" fill="#484848"/>
<rect x="585" y="197.70" width="1" height="2.50" fill="#484848"/>
<rect x="588" y="198.20" width="1" height="2.00" fill="#484848"/>
<rect x="596" y="197.20" width="1" height="3.00" fill="#484848"/>
<rect x="597" y="197.20" width="1" height="3.00" fill="#484848"/>
<rect x="601" y="197.20" width="1" height="3.00" fill="#484848"/>
<rect x="603" y="197.20" width="1" height="3.00" fill="#484848"/>
<rect x="605" y="198.20" width="1" height="2.00" fill="#484848"/>
<rect x="607" y="195.70" width="1" height="4.50" fill="#777"/>
<rect x="608" y="197.20" width="1" height="3.00" fill="#484848"/>
<rect x="610" y="197.20" width="1" height="3.00" fill="#484848"/>
<rect x="613" y="198.70" width="1" height="1.50" fill="#484848"/>
<rect x="616" y="198.20" width="1" height="2.00" fill="#484848"/>
<rect x="624" y="197.70" width="1" height="2.50" fill="#484848"/>
<rect x="627" y="197.70" width="1" height="2.50" fill="#484848"/>
<rect x="628" y="197.20" width="1" height="3.00" fill="#484848"/>
<rect x="630" y="197.20" width="1" height="3.00" fill="#484848"/>
<rect x="632" y="196.70" width="1" height="3.50" fill="#484848"/>
<rect x="634" y="195.20" width="1" height="5.00" fill="#777"/>
<rect x="635" y="197.20" width="1" height="3.00" fill="#484848"/>
<rect x="638" y="198.20" width="1" height="2.00" fill="#484848"/>
<rect x="644" y="196.20" width="1" height="4.00" fill="#484848"/>
<rect x="649" y="198.20" width="1" height="2.00" fill="#484848"/>
<rect x="653" y="197.70" width="1" height="2.50" fill="#484848"/>
<rect x="658" y="197.20" width="1" height="3.00" fill="#484848"/>
<rect x="665" y="197.20" width="1" height="3.00" fill="#484848"/>
<rect x="672" y="195.70" width="1" height="4.50" fill="#484848"/>
<rect x="674" y="190.20" width="1" height="10.00" fill="#777"/>
<rect x="674" y="190.20" width="1" height="10.00" fill="#777"/>
<rect x="676" y="196.20" width="1" height="4.00" fill="#484848"/>
<rect x="677" y="197.20" width="1" height="3.00" fill="#484848"/>
<rect x="678" y="197.70" width="1" height="2.50" fill="#484848"/>
<rect x="690" y="197.20" width="1" height="3.00" fill="#484848"/>
<rect x="693" y="197.20" width="1" height="3.00" fill="#484848"/>
<rect x="695" y="198.20" width="1" height="2.00" fill="#484848"/>
<rect x="707" y="198.20" width="1" height="2.00" fill="#484848"/>
<rect x="717" y="197.70" width="1" height="2.50" fill="#484848"/>
<rect x="723" y="199.20" width="1" height="1.00" fill="#484848"/>
<rect x="729" y="197.20" width="1" height="3.00" fill="#484848"/>
<rect x="730" y="198.20" width="1" height="2.00" fill="#484848"/>
<rect x="741" y="198.70" width="1" height="1.50" fill="#484848"/>
<rect x="745" y="197.20" width="1" height="3.00" fill="#484848"/>
<rect x="747" y="198.70" width="1" height="1.50" fill="#484848"/>
<rect x="759" y="197.70" width="1" height="2.50" fill="#484848"/>
<text x="121.80" y="163.30" textLength="34.90" lengthAdjust="spacingAndGlyphs" class="pl" font-size="9.6">91.0538</text>
<text x="151.80" y="154.50" textLength="39.20" lengthAdjust="spacingAndGlyphs" class="pl" font-size="9.6">105.0714</text>
<text x="215.30" y="135.80" textLength="39.50" lengthAdjust="spacingAndGlyphs" class="pl" font-size="9.6">133.1020</text>
<text x="315.50" y="169.50" textLength="39.50" lengthAdjust="spacingAndGlyphs" class="pl" font-size="9.6">177.9938</text>
<text x="348.80" y="114.30" textLength="39.70" lengthAdjust="spacingAndGlyphs" class="pl" font-size="9.6">193.1218</text>
<text x="384.50" y="183.80" textLength="40.00" lengthAdjust="spacingAndGlyphs" class="pl" font-size="9.6">209.1144</text>
<text x="433.50" y="174.30" textLength="40.00" lengthAdjust="spacingAndGlyphs" class="pl" font-size="9.6">231.1357</text>
<text x="522.50" y="184.50" textLength="40.00" lengthAdjust="spacingAndGlyphs" class="pl" font-size="9.6">271.1704</text>
<text x="655.80" y="180.80" textLength="40.00" lengthAdjust="spacingAndGlyphs" class="pl" font-size="9.6">331.2274</text>
<circle cx="674.50" cy="186.30" r="2.8" fill="#000"/>
<rect x="42" y="298.10" width="1" height="0.80" fill="#555"/>
<rect x="62" y="297.70" width="1" height="1.20" fill="#555"/>
<rect x="69" y="298.30" width="1" height="0.60" fill="#555"/>
<rect x="87" y="298.10" width="1" height="0.80" fill="#555"/>
<rect x="115" y="298.10" width="1" height="0.80" fill="#555"/>
<rect x="124" y="297.90" width="1" height="1.00" fill="#555"/>
<rect x="137" y="298.10" width="1" height="0.80" fill="#555"/>
<rect x="142" y="298.30" width="1" height="0.60" fill="#555"/>
<rect x="151" y="298.10" width="1" height="0.80" fill="#555"/>
<rect x="187" y="297.90" width="1" height="1.00" fill="#555"/>
<rect x="209" y="297.70" width="1" height="1.20" fill="#555"/>
<rect x="224" y="298.30" width="1" height="0.60" fill="#555"/>
<rect x="238" y="297.90" width="1" height="1.00" fill="#555"/>
<rect x="254" y="298.30" width="1" height="0.60" fill="#555"/>
<rect x="262" y="297.90" width="1" height="1.00" fill="#555"/>
<rect x="278" y="297.70" width="1" height="1.20" fill="#555"/>
<rect x="283" y="297.70" width="1" height="1.20" fill="#555"/>
<rect x="288" y="298.30" width="1" height="0.60" fill="#555"/>
<rect x="295" y="297.90" width="1" height="1.00" fill="#555"/>
<rect x="313" y="297.70" width="1" height="1.20" fill="#555"/>
<rect x="333" y="297.70" width="1" height="1.20" fill="#555"/>
<rect x="349" y="298.10" width="1" height="0.80" fill="#555"/>
<rect x="365" y="297.90" width="1" height="1.00" fill="#555"/>
<rect x="368" y="297.90" width="1" height="1.00" fill="#555"/>
<rect x="419" y="298.10" width="1" height="0.80" fill="#555"/>
<rect x="426" y="297.90" width="1" height="1.00" fill="#555"/>
<rect x="435" y="298.30" width="1" height="0.60" fill="#555"/>
<rect x="444" y="298.30" width="1" height="0.60" fill="#555"/>
<rect x="478" y="297.70" width="1" height="1.20" fill="#555"/>
<rect x="490" y="298.30" width="1" height="0.60" fill="#555"/>
<rect x="537" y="298.30" width="1" height="0.60" fill="#555"/>
<rect x="559" y="298.10" width="1" height="0.80" fill="#555"/>
<rect x="583" y="297.70" width="1" height="1.20" fill="#555"/>
<rect x="598" y="297.90" width="1" height="1.00" fill="#555"/>
<rect x="615" y="298.30" width="1" height="0.60" fill="#555"/>
<rect x="624" y="298.30" width="1" height="0.60" fill="#555"/>
<rect x="655" y="297.70" width="1" height="1.20" fill="#555"/>
<rect x="672" y="297.70" width="1" height="1.20" fill="#555"/>
<rect x="690" y="298.10" width="1" height="0.80" fill="#555"/>
<rect x="693" y="298.30" width="1" height="0.60" fill="#555"/>
<rect x="714" y="298.10" width="1" height="0.80" fill="#555"/>
<rect x="728" y="297.70" width="1" height="1.20" fill="#555"/>
<rect x="732" y="297.90" width="1" height="1.00" fill="#555"/>
<rect x="757" y="298.10" width="1" height="0.80" fill="#555"/>
<rect x="149" y="296.90" width="1" height="2.00" fill="#484848"/>
<rect x="175" y="292.90" width="1" height="6.00" fill="#1c1c1c"/>
<rect x="184" y="296.40" width="1" height="2.50" fill="#484848"/>
<rect x="216" y="297.40" width="1" height="1.50" fill="#484848"/>
<rect x="229" y="296.90" width="1" height="2.00" fill="#484848"/>
<rect x="233" y="292.90" width="1" height="6.00" fill="#1c1c1c"/>
<rect x="242" y="295.90" width="1" height="3.00" fill="#484848"/>
<rect x="244" y="295.90" width="1" height="3.00" fill="#484848"/>
<rect x="264" y="286.40" width="1" height="12.50" fill="#1c1c1c"/>
<rect x="269" y="295.90" width="1" height="3.00" fill="#484848"/>
<rect x="273" y="292.40" width="1" height="6.50" fill="#1c1c1c"/>
<rect x="296" y="295.90" width="1" height="3.00" fill="#484848"/>
<rect x="304" y="294.90" width="1" height="4.00" fill="#484848"/>
<rect x="322" y="295.90" width="1" height="3.00" fill="#484848"/>
<rect x="327" y="292.90" width="1" height="6.00" fill="#1c1c1c"/>
<rect x="340" y="296.90" width="1" height="2.00" fill="#484848"/>
<rect x="346" y="297.40" width="1" height="1.50" fill="#484848"/>
<rect x="367" y="225.90" width="1" height="73.00" fill="#1c1c1c"/>
<rect x="368" y="267.90" width="1" height="31.00" fill="#1c1c1c"/>
<rect x="369" y="293.40" width="1" height="5.50" fill="#484848"/>
<rect x="370" y="295.90" width="1" height="3.00" fill="#484848"/>
<rect x="380" y="296.90" width="1" height="2.00" fill="#484848"/>
<rect x="385" y="294.90" width="1" height="4.00" fill="#484848"/>
<rect x="393" y="295.90" width="1" height="3.00" fill="#484848"/>
<rect x="398" y="284.90" width="1" height="14.00" fill="#1c1c1c"/>
<rect x="399" y="294.90" width="1" height="4.00" fill="#484848"/>
<rect x="417" y="296.90" width="1" height="2.00" fill="#484848"/>
<rect x="420" y="281.90" width="1" height="17.00" fill="#1c1c1c"/>
<rect x="421" y="294.90" width="1" height="4.00" fill="#484848"/>
<rect x="429" y="216.40" width="1" height="82.50" fill="#666"/>
<rect x="430" y="262.90" width="1" height="36.00" fill="#1c1c1c"/>
<rect x="431" y="286.40" width="1" height="12.50" fill="#1c1c1c"/>
<rect x="432" y="288.90" width="1" height="10.00" fill="#555"/>
<rect x="434" y="295.90" width="1" height="3.00" fill="#484848"/>
<rect x="452" y="284.40" width="1" height="14.50" fill="#1c1c1c"/>
<rect x="453" y="295.90" width="1" height="3.00" fill="#484848"/>
<rect x="456" y="295.90" width="1" height="3.00" fill="#484848"/>
<rect x="470" y="294.90" width="1" height="4.00" fill="#484848"/>
<rect x="478" y="295.90" width="1" height="3.00" fill="#484848"/>
<rect x="483" y="293.90" width="1" height="5.00" fill="#484848"/>
<rect x="487" y="296.90" width="1" height="2.00" fill="#484848"/>
<rect x="510" y="297.40" width="1" height="1.50" fill="#484848"/>
<rect x="514" y="275.90" width="1" height="23.00" fill="#1c1c1c"/>
<rect x="515" y="295.90" width="1" height="3.00" fill="#484848"/>
<rect x="516" y="292.40" width="1" height="6.50" fill="#1c1c1c"/>
<rect x="520" y="292.40" width="1" height="6.50" fill="#1c1c1c"/>
<rect x="537" y="296.90" width="1" height="2.00" fill="#484848"/>
<rect x="541" y="229.90" width="1" height="69.00" fill="#1c1c1c"/>
<rect x="542" y="278.90" width="1" height="20.00" fill="#1c1c1c"/>
<rect x="543" y="286.90" width="1" height="12.00" fill="#555"/>
<rect x="544" y="290.90" width="1" height="8.00" fill="#555"/>
<rect x="546" y="294.90" width="1" height="4.00" fill="#484848"/>
<rect x="547" y="296.90" width="1" height="2.00" fill="#484848"/>
<rect x="572" y="293.90" width="1" height="5.00" fill="#484848"/>
<rect x="574" y="292.90" width="1" height="6.00" fill="#1c1c1c"/>
<rect x="575" y="289.90" width="1" height="9.00" fill="#1c1c1c"/>
<rect x="577" y="286.40" width="1" height="12.50" fill="#1c1c1c"/>
<rect x="578" y="294.90" width="1" height="4.00" fill="#484848"/>
<rect x="580" y="296.90" width="1" height="2.00" fill="#484848"/>
<rect x="592" y="296.90" width="1" height="2.00" fill="#484848"/>
<rect x="603" y="296.90" width="1" height="2.00" fill="#484848"/>
<rect x="607" y="296.90" width="1" height="2.00" fill="#484848"/>
<rect x="630" y="283.30" width="1" height="15.60" fill="#1c1c1c"/>
<rect x="631" y="293.90" width="1" height="5.00" fill="#484848"/>
<rect x="632" y="294.90" width="1" height="4.00" fill="#484848"/>
<rect x="633" y="295.90" width="1" height="3.00" fill="#484848"/>
<rect x="668" y="297.40" width="1" height="1.50" fill="#484848"/>
<rect x="670" y="268.90" width="1" height="30.00" fill="#1c1c1c"/>
<rect x="671" y="291.90" width="1" height="7.00" fill="#1c1c1c"/>
<rect x="672" y="288.90" width="1" height="10.00" fill="#555"/>
<rect x="673" y="293.90" width="1" height="5.00" fill="#484848"/>
<rect x="675" y="296.90" width="1" height="2.00" fill="#484848"/>
<rect x="709" y="297.70" width="1" height="1.20" fill="#484848"/>
<text x="157.30" y="290.50" textLength="39.50" lengthAdjust="spacingAndGlyphs" class="pl" font-size="9.6">107.0850</text>
<text x="214.30" y="292.00" textLength="39.20" lengthAdjust="spacingAndGlyphs" class="pl" font-size="9.6">133.0272</text>
<text x="246.00" y="281.80" textLength="39.50" lengthAdjust="spacingAndGlyphs" class="pl" font-size="9.6">147.0427</text>
<text x="286.00" y="292.00" textLength="39.50" lengthAdjust="spacingAndGlyphs" class="pl" font-size="9.6">165.0542</text>
<text x="348.80" y="221.30" textLength="40.00" lengthAdjust="spacingAndGlyphs" class="pl" font-size="9.6">193.1232</text>
<text x="379.50" y="281.30" textLength="40.00" lengthAdjust="spacingAndGlyphs" class="pl" font-size="9.6">207.1040</text>
<text x="411.30" y="213.00" textLength="40.00" lengthAdjust="spacingAndGlyphs" class="pl" font-size="9.6">221.1180</text>
<text x="433.30" y="280.00" textLength="40.00" lengthAdjust="spacingAndGlyphs" class="pl" font-size="9.6">231.1393</text>
<text x="495.80" y="272.00" textLength="40.00" lengthAdjust="spacingAndGlyphs" class="pl" font-size="9.6">259.1708</text>
<text x="522.50" y="225.80" textLength="40.00" lengthAdjust="spacingAndGlyphs" class="pl" font-size="9.6">271.1712</text>
<text x="558.00" y="282.50" textLength="40.00" lengthAdjust="spacingAndGlyphs" class="pl" font-size="9.6">287.2034</text>
<text x="611.40" y="279.40" textLength="40.00" lengthAdjust="spacingAndGlyphs" class="pl" font-size="9.6">311.2018</text>
<text x="652.00" y="264.30" textLength="40.00" lengthAdjust="spacingAndGlyphs" class="pl" font-size="9.6">329.2138</text>
<text x="691.50" y="287.50" textLength="40.00" lengthAdjust="spacingAndGlyphs" class="pl" font-size="9.6">347.2220</text>
<circle cx="709.75" cy="292.00" r="2.8" fill="#000"/>
<rect x="58" y="396.30" width="1" height="0.80" fill="#555"/>
<rect x="62" y="396.50" width="1" height="0.60" fill="#555"/>
<rect x="71" y="395.90" width="1" height="1.20" fill="#555"/>
<rect x="77" y="396.10" width="1" height="1.00" fill="#555"/>
<rect x="125" y="395.90" width="1" height="1.20" fill="#555"/>
<rect x="176" y="396.10" width="1" height="1.00" fill="#555"/>
<rect x="199" y="396.30" width="1" height="0.80" fill="#555"/>
<rect x="206" y="396.50" width="1" height="0.60" fill="#555"/>
<rect x="221" y="395.90" width="1" height="1.20" fill="#555"/>
<rect x="237" y="396.10" width="1" height="1.00" fill="#555"/>
<rect x="281" y="396.10" width="1" height="1.00" fill="#555"/>
<rect x="288" y="396.30" width="1" height="0.80" fill="#555"/>
<rect x="335" y="396.50" width="1" height="0.60" fill="#555"/>
<rect x="347" y="396.50" width="1" height="0.60" fill="#555"/>
<rect x="364" y="396.10" width="1" height="1.00" fill="#555"/>
<rect x="371" y="396.50" width="1" height="0.60" fill="#555"/>
<rect x="378" y="395.90" width="1" height="1.20" fill="#555"/>
<rect x="394" y="396.30" width="1" height="0.80" fill="#555"/>
<rect x="414" y="396.30" width="1" height="0.80" fill="#555"/>
<rect x="425" y="396.30" width="1" height="0.80" fill="#555"/>
<rect x="441" y="395.90" width="1" height="1.20" fill="#555"/>
<rect x="494" y="396.10" width="1" height="1.00" fill="#555"/>
<rect x="501" y="396.50" width="1" height="0.60" fill="#555"/>
<rect x="539" y="395.90" width="1" height="1.20" fill="#555"/>
<rect x="543" y="395.90" width="1" height="1.20" fill="#555"/>
<rect x="546" y="396.10" width="1" height="1.00" fill="#555"/>
<rect x="563" y="396.30" width="1" height="0.80" fill="#555"/>
<rect x="585" y="396.50" width="1" height="0.60" fill="#555"/>
<rect x="601" y="396.30" width="1" height="0.80" fill="#555"/>
<rect x="634" y="396.30" width="1" height="0.80" fill="#555"/>
<rect x="725" y="396.30" width="1" height="0.80" fill="#555"/>
<rect x="759" y="396.30" width="1" height="0.80" fill="#555"/>
<rect x="766" y="395.90" width="1" height="1.20" fill="#555"/>
<rect x="91" y="393.60" width="1" height="3.50" fill="#484848"/>
<rect x="95" y="388.10" width="1" height="9.00" fill="#1c1c1c"/>
<rect x="180" y="380.60" width="1" height="16.50" fill="#1c1c1c"/>
<rect x="233" y="395.10" width="1" height="2.00" fill="#484848"/>
<rect x="238" y="373.60" width="1" height="23.50" fill="#666"/>
<rect x="238" y="384.10" width="1" height="13.00" fill="#1c1c1c"/>
<rect x="333" y="394.10" width="1" height="3.00" fill="#484848"/>
<rect x="341" y="393.10" width="1" height="4.00" fill="#777"/>
<rect x="367" y="380.10" width="1" height="17.00" fill="#777"/>
<rect x="367" y="393.10" width="1" height="4.00" fill="#484848"/>
<rect x="385" y="385.10" width="1" height="12.00" fill="#1c1c1c"/>
<rect x="394" y="315.10" width="1" height="82.00" fill="#666"/>
<rect x="394" y="345.10" width="1" height="52.00" fill="#1c1c1c"/>
<rect x="396" y="383.10" width="1" height="14.00" fill="#1c1c1c"/>
<rect x="397" y="395.10" width="1" height="2.00" fill="#484848"/>
<rect x="420" y="396.10" width="1" height="1.00" fill="#484848"/>
<rect x="452" y="395.60" width="1" height="1.50" fill="#484848"/>
<rect x="483" y="396.10" width="1" height="1.00" fill="#484848"/>
<rect x="487" y="393.60" width="1" height="3.50" fill="#484848"/>
<rect x="489" y="395.10" width="1" height="2.00" fill="#484848"/>
<rect x="491" y="395.60" width="1" height="1.50" fill="#484848"/>
<rect x="510" y="395.60" width="1" height="1.50" fill="#484848"/>
<rect x="541" y="392.10" width="1" height="5.00" fill="#484848"/>
<rect x="543" y="395.10" width="1" height="2.00" fill="#484848"/>
<rect x="545" y="395.10" width="1" height="2.00" fill="#484848"/>
<rect x="634" y="384.60" width="1" height="12.50" fill="#777"/>
<rect x="636" y="395.10" width="1" height="2.00" fill="#484848"/>
<rect x="637" y="395.60" width="1" height="1.50" fill="#484848"/>
<rect x="674" y="366.60" width="1" height="30.50" fill="#777"/>
<rect x="675" y="384.10" width="1" height="13.00" fill="#1c1c1c"/>
<rect x="677" y="392.60" width="1" height="4.50" fill="#484848"/>
<text x="78.00" y="383.30" textLength="34.50" lengthAdjust="spacingAndGlyphs" class="pl" font-size="9.6">71.0859</text>
<text x="162.30" y="376.30" textLength="39.50" lengthAdjust="spacingAndGlyphs" class="pl" font-size="9.6">109.1014</text>
<text x="219.20" y="369.50" textLength="39.60" lengthAdjust="spacingAndGlyphs" class="pl" font-size="9.6">135.0442</text>
<text x="322.50" y="389.50" textLength="39.50" lengthAdjust="spacingAndGlyphs" class="pl" font-size="9.6">181.1256</text>
<text x="348.80" y="375.80" textLength="39.50" lengthAdjust="spacingAndGlyphs" class="pl" font-size="9.6">193.1224</text>
<text x="375.00" y="311.80" textLength="40.00" lengthAdjust="spacingAndGlyphs" class="pl" font-size="9.6">205.1225</text>
<text x="468.80" y="389.50" textLength="39.50" lengthAdjust="spacingAndGlyphs" class="pl" font-size="9.6">247.1347</text>
<text x="522.50" y="388.00" textLength="39.50" lengthAdjust="spacingAndGlyphs" class="pl" font-size="9.6">271.1707</text>
<text x="616.00" y="380.80" textLength="40.00" lengthAdjust="spacingAndGlyphs" class="pl" font-size="9.6">313.2158</text>
<text x="655.80" y="358.00" textLength="39.50" lengthAdjust="spacingAndGlyphs" class="pl" font-size="9.6">331.2271</text>
<circle cx="674.75" cy="364.30" r="2.8" fill="#000"/>
<rect x="42" y="495.20" width="1" height="0.60" fill="#777"/>
<rect x="47" y="493.80" width="1" height="2.00" fill="#484848"/>
<rect x="50" y="493.80" width="1" height="2.00" fill="#484848"/>
<rect x="55" y="494.80" width="1" height="1.00" fill="#484848"/>
<rect x="64" y="495.00" width="1" height="0.80" fill="#484848"/>
<rect x="68" y="494.80" width="1" height="1.00" fill="#777"/>
<rect x="73" y="494.50" width="1" height="1.30" fill="#777"/>
<rect x="75" y="495.20" width="1" height="0.60" fill="#555"/>
<rect x="79" y="494.30" width="1" height="1.50" fill="#555"/>
<rect x="84" y="494.80" width="1" height="1.00" fill="#484848"/>
<rect x="88" y="495.20" width="1" height="0.60" fill="#555"/>
<rect x="90" y="495.20" width="1" height="0.60" fill="#777"/>
<rect x="96" y="495.00" width="1" height="0.80" fill="#484848"/>
<rect x="100" y="494.30" width="1" height="1.50" fill="#777"/>
<rect x="104" y="494.30" width="1" height="1.50" fill="#777"/>
<rect x="112" y="494.80" width="1" height="1.00" fill="#555"/>
<rect x="115" y="495.20" width="1" height="0.60" fill="#555"/>
<rect x="120" y="494.80" width="1" height="1.00" fill="#777"/>
<rect x="122" y="494.80" width="1" height="1.00" fill="#555"/>
<rect x="125" y="494.80" width="1" height="1.00" fill="#555"/>
<rect x="133" y="494.80" width="1" height="1.00" fill="#484848"/>
<rect x="136" y="493.80" width="1" height="2.00" fill="#777"/>
<rect x="138" y="494.80" width="1" height="1.00" fill="#555"/>
<rect x="139" y="495.20" width="1" height="0.60" fill="#777"/>
<rect x="142" y="495.00" width="1" height="0.80" fill="#484848"/>
<rect x="144" y="494.80" width="1" height="1.00" fill="#484848"/>
<rect x="155" y="494.50" width="1" height="1.30" fill="#777"/>
<rect x="161" y="493.80" width="1" height="2.00" fill="#484848"/>
<rect x="169" y="494.50" width="1" height="1.30" fill="#484848"/>
<rect x="171" y="494.80" width="1" height="1.00" fill="#555"/>
<rect x="174" y="494.30" width="1" height="1.50" fill="#777"/>
<rect x="176" y="495.00" width="1" height="0.80" fill="#555"/>
<rect x="179" y="494.80" width="1" height="1.00" fill="#484848"/>
<rect x="181" y="495.20" width="1" height="0.60" fill="#484848"/>
<rect x="188" y="494.80" width="1" height="1.00" fill="#555"/>
<rect x="191" y="494.50" width="1" height="1.30" fill="#484848"/>
<rect x="193" y="494.80" width="1" height="1.00" fill="#777"/>
<rect x="195" y="494.80" width="1" height="1.00" fill="#555"/>
<rect x="199" y="495.20" width="1" height="0.60" fill="#777"/>
<rect x="202" y="494.30" width="1" height="1.50" fill="#777"/>
<rect x="204" y="494.80" width="1" height="1.00" fill="#484848"/>
<rect x="207" y="494.80" width="1" height="1.00" fill="#484848"/>
<rect x="212" y="494.30" width="1" height="1.50" fill="#484848"/>
<rect x="213" y="495.00" width="1" height="0.80" fill="#555"/>
<rect x="216" y="494.80" width="1" height="1.00" fill="#555"/>
<rect x="218" y="494.80" width="1" height="1.00" fill="#777"/>
<rect x="224" y="494.80" width="1" height="1.00" fill="#777"/>
<rect x="231" y="494.50" width="1" height="1.30" fill="#777"/>
<rect x="240" y="493.80" width="1" height="2.00" fill="#484848"/>
<rect x="244" y="495.20" width="1" height="0.60" fill="#777"/>
<rect x="249" y="495.00" width="1" height="0.80" fill="#777"/>
<rect x="251" y="494.80" width="1" height="1.00" fill="#777"/>
<rect x="253" y="494.80" width="1" height="1.00" fill="#777"/>
<rect x="257" y="494.80" width="1" height="1.00" fill="#484848"/>
<rect x="261" y="494.50" width="1" height="1.30" fill="#555"/>
<rect x="264" y="494.80" width="1" height="1.00" fill="#777"/>
<rect x="266" y="495.00" width="1" height="0.80" fill="#777"/>
<rect x="268" y="494.80" width="1" height="1.00" fill="#777"/>
<rect x="273" y="495.20" width="1" height="0.60" fill="#484848"/>
<rect x="281" y="494.80" width="1" height="1.00" fill="#484848"/>
<rect x="286" y="494.80" width="1" height="1.00" fill="#484848"/>
<rect x="289" y="494.80" width="1" height="1.00" fill="#777"/>
<rect x="292" y="494.80" width="1" height="1.00" fill="#484848"/>
<rect x="300" y="495.00" width="1" height="0.80" fill="#555"/>
<rect x="302" y="495.00" width="1" height="0.80" fill="#555"/>
<rect x="304" y="494.50" width="1" height="1.30" fill="#555"/>
<rect x="308" y="495.00" width="1" height="0.80" fill="#555"/>
<rect x="316" y="494.50" width="1" height="1.30" fill="#484848"/>
<rect x="319" y="495.20" width="1" height="0.60" fill="#484848"/>
<rect x="322" y="494.30" width="1" height="1.50" fill="#555"/>
<rect x="327" y="495.20" width="1" height="0.60" fill="#484848"/>
<rect x="330" y="494.30" width="1" height="1.50" fill="#777"/>
<rect x="335" y="494.80" width="1" height="1.00" fill="#777"/>
<rect x="340" y="494.80" width="1" height="1.00" fill="#555"/>
<rect x="343" y="495.20" width="1" height="0.60" fill="#484848"/>
<rect x="345" y="494.80" width="1" height="1.00" fill="#484848"/>
<rect x="351" y="493.80" width="1" height="2.00" fill="#555"/>
<rect x="354" y="494.30" width="1" height="1.50" fill="#555"/>
<rect x="356" y="494.80" width="1" height="1.00" fill="#484848"/>
<rect x="359" y="494.80" width="1" height="1.00" fill="#484848"/>
<rect x="364" y="493.80" width="1" height="2.00" fill="#777"/>
<rect x="367" y="495.20" width="1" height="0.60" fill="#555"/>
<rect x="370" y="494.30" width="1" height="1.50" fill="#484848"/>
<rect x="374" y="494.80" width="1" height="1.00" fill="#555"/>
<rect x="378" y="494.30" width="1" height="1.50" fill="#777"/>
<rect x="383" y="494.80" width="1" height="1.00" fill="#555"/>
<rect x="395" y="495.00" width="1" height="0.80" fill="#484848"/>
<rect x="411" y="494.30" width="1" height="1.50" fill="#555"/>
<rect x="420" y="493.80" width="1" height="2.00" fill="#555"/>
<rect x="423" y="493.80" width="1" height="2.00" fill="#777"/>
<rect x="424" y="494.80" width="1" height="1.00" fill="#484848"/>
<rect x="426" y="494.30" width="1" height="1.50" fill="#484848"/>
<rect x="429" y="494.80" width="1" height="1.00" fill="#484848"/>
<rect x="434" y="495.20" width="1" height="0.60" fill="#484848"/>
<rect x="435" y="494.30" width="1" height="1.50" fill="#555"/>
<rect x="437" y="494.80" width="1" height="1.00" fill="#555"/>
<rect x="451" y="494.50" width="1" height="1.30" fill="#555"/>
<rect x="453" y="494.80" width="1" height="1.00" fill="#484848"/>
<rect x="456" y="495.00" width="1" height="0.80" fill="#484848"/>
<rect x="458" y="494.50" width="1" height="1.30" fill="#484848"/>
<rect x="461" y="494.80" width="1" height="1.00" fill="#484848"/>
<rect x="465" y="494.30" width="1" height="1.50" fill="#484848"/>
<rect x="470" y="495.20" width="1" height="0.60" fill="#484848"/>
<rect x="471" y="493.80" width="1" height="2.00" fill="#484848"/>
<rect x="478" y="495.00" width="1" height="0.80" fill="#777"/>
<rect x="482" y="495.20" width="1" height="0.60" fill="#555"/>
<rect x="489" y="493.80" width="1" height="2.00" fill="#777"/>
<rect x="490" y="494.50" width="1" height="1.30" fill="#777"/>
<rect x="494" y="495.20" width="1" height="0.60" fill="#555"/>
<rect x="497" y="495.00" width="1" height="0.80" fill="#555"/>
<rect x="498" y="494.30" width="1" height="1.50" fill="#484848"/>
<rect x="503" y="495.00" width="1" height="0.80" fill="#777"/>
<rect x="505" y="495.20" width="1" height="0.60" fill="#555"/>
<rect x="509" y="494.80" width="1" height="1.00" fill="#484848"/>
<rect x="512" y="495.00" width="1" height="0.80" fill="#777"/>
<rect x="516" y="495.00" width="1" height="0.80" fill="#555"/>
<rect x="521" y="494.80" width="1" height="1.00" fill="#777"/>
<rect x="524" y="495.20" width="1" height="0.60" fill="#555"/>
<rect x="529" y="494.80" width="1" height="1.00" fill="#555"/>
<rect x="532" y="493.80" width="1" height="2.00" fill="#555"/>
<rect x="537" y="494.30" width="1" height="1.50" fill="#555"/>
<rect x="545" y="495.20" width="1" height="0.60" fill="#555"/>
<rect x="554" y="494.50" width="1" height="1.30" fill="#484848"/>
<rect x="562" y="494.50" width="1" height="1.30" fill="#555"/>
<rect x="567" y="495.00" width="1" height="0.80" fill="#555"/>
<rect x="569" y="495.00" width="1" height="0.80" fill="#484848"/>
<rect x="571" y="493.80" width="1" height="2.00" fill="#484848"/>
<rect x="573" y="495.20" width="1" height="0.60" fill="#555"/>
<rect x="576" y="494.30" width="1" height="1.50" fill="#555"/>
<rect x="581" y="495.00" width="1" height="0.80" fill="#777"/>
<rect x="583" y="494.50" width="1" height="1.30" fill="#484848"/>
<rect x="586" y="495.00" width="1" height="0.80" fill="#484848"/>
<rect x="591" y="495.20" width="1" height="0.60" fill="#484848"/>
<rect x="595" y="494.50" width="1" height="1.30" fill="#777"/>
<rect x="597" y="494.80" width="1" height="1.00" fill="#484848"/>
<rect x="600" y="494.50" width="1" height="1.30" fill="#777"/>
<rect x="602" y="495.10" width="1" height="0.70" fill="#777"/>
<rect x="604" y="494.75" width="1" height="1.05" fill="#555"/>
<rect x="607" y="495.24" width="1" height="0.56" fill="#484848"/>
<rect x="609" y="495.10" width="1" height="0.70" fill="#555"/>
<rect x="611" y="494.89" width="1" height="0.91" fill="#555"/>
<rect x="616" y="495.24" width="1" height="0.56" fill="#555"/>
<rect x="619" y="494.40" width="1" height="1.40" fill="#555"/>
<rect x="623" y="495.38" width="1" height="0.42" fill="#484848"/>
<rect x="628" y="494.75" width="1" height="1.05" fill="#555"/>
<rect x="633" y="495.38" width="1" height="0.42" fill="#777"/>
<rect x="636" y="494.40" width="1" height="1.40" fill="#484848"/>
<rect x="643" y="495.10" width="1" height="0.70" fill="#555"/>
<rect x="645" y="494.75" width="1" height="1.05" fill="#484848"/>
<rect x="652" y="494.89" width="1" height="0.91" fill="#555"/>
<rect x="655" y="494.89" width="1" height="0.91" fill="#555"/>
<rect x="657" y="494.89" width="1" height="0.91" fill="#777"/>
<rect x="659" y="495.38" width="1" height="0.42" fill="#484848"/>
<rect x="661" y="494.75" width="1" height="1.05" fill="#555"/>
<rect x="666" y="495.10" width="1" height="0.70" fill="#484848"/>
<rect x="669" y="494.89" width="1" height="0.91" fill="#484848"/>
<rect x="677" y="494.89" width="1" height="0.91" fill="#777"/>
<rect x="678" y="494.89" width="1" height="0.91" fill="#777"/>
<rect x="684" y="495.10" width="1" height="0.70" fill="#777"/>
<rect x="686" y="494.40" width="1" height="1.40" fill="#484848"/>
<rect x="689" y="494.89" width="1" height="0.91" fill="#777"/>
<rect x="690" y="494.89" width="1" height="0.91" fill="#555"/>
<rect x="693" y="494.40" width="1" height="1.40" fill="#777"/>
<rect x="703" y="495.38" width="1" height="0.42" fill="#484848"/>
<rect x="705" y="494.75" width="1" height="1.05" fill="#555"/>
<rect x="708" y="495.38" width="1" height="0.42" fill="#484848"/>
<rect x="711" y="494.75" width="1" height="1.05" fill="#484848"/>
<rect x="712" y="494.89" width="1" height="0.91" fill="#555"/>
<rect x="715" y="495.10" width="1" height="0.70" fill="#777"/>
<rect x="717" y="495.10" width="1" height="0.70" fill="#777"/>
<rect x="719" y="494.89" width="1" height="0.91" fill="#555"/>
<rect x="721" y="494.40" width="1" height="1.40" fill="#484848"/>
<rect x="726" y="495.38" width="1" height="0.42" fill="#484848"/>
<rect x="731" y="494.75" width="1" height="1.05" fill="#555"/>
<rect x="735" y="494.40" width="1" height="1.40" fill="#777"/>
<rect x="738" y="494.89" width="1" height="0.91" fill="#555"/>
<rect x="747" y="495.24" width="1" height="0.56" fill="#484848"/>
<rect x="748" y="495.38" width="1" height="0.42" fill="#555"/>
<rect x="750" y="495.38" width="1" height="0.42" fill="#484848"/>
<rect x="752" y="494.75" width="1" height="1.05" fill="#484848"/>
<rect x="754" y="494.89" width="1" height="0.91" fill="#777"/>
<rect x="759" y="494.75" width="1" height="1.05" fill="#555"/>
<rect x="763" y="495.10" width="1" height="0.70" fill="#484848"/>
<rect x="765" y="494.75" width="1" height="1.05" fill="#555"/>
<rect x="770" y="495.10" width="1" height="0.70" fill="#555"/>
<rect x="59" y="484.00" width="1" height="11.80" fill="#999"/>
<rect x="60" y="484.00" width="1" height="11.80" fill="#666"/>
<rect x="64" y="486.80" width="1" height="9.00" fill="#555"/>
<rect x="68" y="488.30" width="1" height="7.50" fill="#aaa"/>
<rect x="69" y="488.30" width="1" height="7.50" fill="#777"/>
<rect x="86" y="492.30" width="1" height="3.50" fill="#484848"/>
<rect x="90" y="485.30" width="1" height="10.50" fill="#999"/>
<rect x="91" y="485.30" width="1" height="10.50" fill="#666"/>
<rect x="95" y="474.80" width="1" height="21.00" fill="#1c1c1c"/>
<rect x="97" y="490.80" width="1" height="5.00" fill="#484848"/>
<rect x="98" y="492.80" width="1" height="3.00" fill="#484848"/>
<rect x="100" y="493.80" width="1" height="2.00" fill="#484848"/>
<rect x="118" y="493.80" width="1" height="2.00" fill="#484848"/>
<rect x="122" y="492.80" width="1" height="3.00" fill="#484848"/>
<rect x="126" y="489.80" width="1" height="6.00" fill="#777"/>
<rect x="144" y="486.80" width="1" height="9.00" fill="#555"/>
<rect x="177" y="482.80" width="1" height="13.00" fill="#1c1c1c"/>
<rect x="179" y="489.80" width="1" height="6.00" fill="#1c1c1c"/>
<rect x="181" y="491.80" width="1" height="4.00" fill="#484848"/>
<rect x="183" y="493.80" width="1" height="2.00" fill="#484848"/>
<rect x="185" y="493.80" width="1" height="2.00" fill="#484848"/>
<rect x="215" y="493.30" width="1" height="2.50" fill="#484848"/>
<rect x="217" y="493.80" width="1" height="2.00" fill="#484848"/>
<rect x="233" y="493.30" width="1" height="2.50" fill="#484848"/>
<rect x="235" y="492.80" width="1" height="3.00" fill="#484848"/>
<rect x="238" y="482.80" width="1" height="13.00" fill="#1c1c1c"/>
<rect x="240" y="492.80" width="1" height="3.00" fill="#484848"/>
<rect x="241" y="493.30" width="1" height="2.50" fill="#484848"/>
<rect x="243" y="493.80" width="1" height="2.00" fill="#484848"/>
<rect x="264" y="486.50" width="1" height="9.30" fill="#1c1c1c"/>
<rect x="265" y="486.50" width="1" height="9.30" fill="#777"/>
<rect x="267" y="490.30" width="1" height="5.50" fill="#484848"/>
<rect x="268" y="493.80" width="1" height="2.00" fill="#484848"/>
<rect x="295" y="491.30" width="1" height="4.50" fill="#484848"/>
<rect x="304" y="492.80" width="1" height="3.00" fill="#484848"/>
<rect x="322" y="492.30" width="1" height="3.50" fill="#484848"/>
<rect x="327" y="492.80" width="1" height="3.00" fill="#484848"/>
<rect x="331" y="493.80" width="1" height="2.00" fill="#484848"/>
<rect x="340" y="491.30" width="1" height="4.50" fill="#484848"/>
<rect x="342" y="493.80" width="1" height="2.00" fill="#484848"/>
<rect x="358" y="492.30" width="1" height="3.50" fill="#484848"/>
<rect x="367" y="475.80" width="1" height="20.00" fill="#1c1c1c"/>
<rect x="368" y="492.80" width="1" height="3.00" fill="#484848"/>
<rect x="385" y="483.30" width="1" height="12.50" fill="#1c1c1c"/>
<rect x="386" y="492.80" width="1" height="3.00" fill="#484848"/>
<rect x="391" y="470.30" width="1" height="25.50" fill="#777"/>
<rect x="392" y="470.30" width="1" height="25.50" fill="#aaa"/>
<rect x="392" y="485.80" width="1" height="10.00" fill="#1c1c1c"/>
<rect x="394" y="412.80" width="1" height="83.00" fill="#666"/>
<rect x="394" y="433.30" width="1" height="62.50" fill="#1c1c1c"/>
<rect x="396" y="485.30" width="1" height="10.50" fill="#1c1c1c"/>
<rect x="398" y="490.80" width="1" height="5.00" fill="#484848"/>
<rect x="399" y="492.80" width="1" height="3.00" fill="#484848"/>
<rect x="420" y="488.30" width="1" height="7.50" fill="#777"/>
<rect x="421" y="488.30" width="1" height="7.50" fill="#555"/>
<rect x="423" y="488.30" width="1" height="7.50" fill="#555"/>
<rect x="448" y="493.80" width="1" height="2.00" fill="#484848"/>
<rect x="450" y="493.80" width="1" height="2.00" fill="#484848"/>
<rect x="452" y="427.30" width="1" height="68.50" fill="#1c1c1c"/>
<rect x="453" y="486.80" width="1" height="9.00" fill="#1c1c1c"/>
<rect x="454" y="489.80" width="1" height="6.00" fill="#1c1c1c"/>
<rect x="456" y="492.80" width="1" height="3.00" fill="#484848"/>
<rect x="471" y="493.80" width="1" height="2.00" fill="#484848"/>
<rect x="478" y="491.80" width="1" height="4.00" fill="#484848"/>
<rect x="480" y="492.80" width="1" height="3.00" fill="#484848"/>
<rect x="483" y="485.80" width="1" height="10.00" fill="#1c1c1c"/>
<rect x="484" y="492.80" width="1" height="3.00" fill="#484848"/>
<rect x="486" y="493.80" width="1" height="2.00" fill="#484848"/>
<rect x="488" y="493.80" width="1" height="2.00" fill="#484848"/>
<rect x="505" y="493.80" width="1" height="2.00" fill="#484848"/>
<rect x="509" y="482.00" width="1" height="13.80" fill="#1c1c1c"/>
<rect x="510" y="484.80" width="1" height="11.00" fill="#1c1c1c"/>
<rect x="511" y="492.80" width="1" height="3.00" fill="#484848"/>
<rect x="514" y="482.80" width="1" height="13.00" fill="#1c1c1c"/>
<rect x="515" y="485.80" width="1" height="10.00" fill="#1c1c1c"/>
<rect x="516" y="488.80" width="1" height="7.00" fill="#1c1c1c"/>
<rect x="541" y="483.30" width="1" height="12.50" fill="#1c1c1c"/>
<rect x="542" y="492.80" width="1" height="3.00" fill="#484848"/>
<rect x="543" y="492.80" width="1" height="3.00" fill="#484848"/>
<rect x="545" y="490.30" width="1" height="5.50" fill="#484848"/>
<rect x="546" y="492.80" width="1" height="3.00" fill="#484848"/>
<rect x="548" y="493.80" width="1" height="2.00" fill="#484848"/>
<rect x="560" y="493.80" width="1" height="2.00" fill="#484848"/>
<rect x="567" y="493.80" width="1" height="2.00" fill="#484848"/>
<rect x="573" y="492.80" width="1" height="3.00" fill="#484848"/>
<rect x="575" y="491.80" width="1" height="4.00" fill="#484848"/>
<rect x="576" y="479.80" width="1" height="16.00" fill="#1c1c1c"/>
<rect x="578" y="488.80" width="1" height="7.00" fill="#555"/>
<rect x="580" y="492.80" width="1" height="3.00" fill="#484848"/>
<rect x="595" y="493.80" width="1" height="2.00" fill="#484848"/>
<rect x="599" y="493.80" width="1" height="2.00" fill="#484848"/>
<rect x="608" y="494.30" width="1" height="1.50" fill="#484848"/>
<rect x="632" y="493.80" width="1" height="2.00" fill="#484848"/>
<rect x="634" y="479.00" width="1" height="16.80" fill="#1c1c1c"/>
<rect x="639" y="488.80" width="1" height="7.00" fill="#555"/>
<rect x="641" y="492.80" width="1" height="3.00" fill="#484848"/>
<rect x="658" y="493.80" width="1" height="2.00" fill="#484848"/>
<rect x="669" y="493.80" width="1" height="2.00" fill="#484848"/>
<rect x="673" y="491.30" width="1" height="4.50" fill="#484848"/>
<rect x="675" y="493.80" width="1" height="2.00" fill="#484848"/>
<rect x="710" y="434.80" width="1" height="61.00" fill="#666"/>
<rect x="711" y="464.80" width="1" height="31.00" fill="#1c1c1c"/>
<rect x="712" y="480.80" width="1" height="15.00" fill="#777"/>
<rect x="713" y="487.80" width="1" height="8.00" fill="#1c1c1c"/>
<text x="43.00" y="480.30" textLength="34.30" lengthAdjust="spacingAndGlyphs" class="pl" font-size="9.6">55.0548</text>
<text x="78.00" y="471.00" textLength="34.30" lengthAdjust="spacingAndGlyphs" class="pl" font-size="9.6">71.0485</text>
<text x="127.30" y="483.30" textLength="34.50" lengthAdjust="spacingAndGlyphs" class="pl" font-size="9.6">93.0709</text>
<text x="159.30" y="475.80" textLength="39.50" lengthAdjust="spacingAndGlyphs" class="pl" font-size="9.6">108.0936</text>
<text x="215.50" y="470.30" textLength="39.50" lengthAdjust="spacingAndGlyphs" class="pl" font-size="9.6">135.0448</text>
<line x1="235.75" y1="474.00" x2="237.75" y2="481.50" stroke="#333" stroke-width="0.7"/>
<text x="246.30" y="484.80" textLength="39.50" lengthAdjust="spacingAndGlyphs" class="pl" font-size="9.6">147.0435</text>
<text x="348.80" y="472.00" textLength="39.50" lengthAdjust="spacingAndGlyphs" class="pl" font-size="9.6">193.1233</text>
<text x="375.00" y="410.80" textLength="40.00" lengthAdjust="spacingAndGlyphs" class="pl" font-size="9.6">205.1227</text>
<text x="402.00" y="484.00" textLength="40.00" lengthAdjust="spacingAndGlyphs" class="pl" font-size="9.6">217.1241</text>
<text x="433.80" y="424.00" textLength="40.00" lengthAdjust="spacingAndGlyphs" class="pl" font-size="9.6">231.1388</text>
<text x="464.50" y="482.80" textLength="40.00" lengthAdjust="spacingAndGlyphs" class="pl" font-size="9.6">245.1563</text>
<text x="488.80" y="467.00" textLength="40.00" lengthAdjust="spacingAndGlyphs" class="pl" font-size="9.6">257.1529</text>
<line x1="508.25" y1="470.30" x2="509.25" y2="479.00" stroke="#333" stroke-width="0.7"/>
<text x="522.50" y="481.50" textLength="39.50" lengthAdjust="spacingAndGlyphs" class="pl" font-size="9.6">271.1683</text>
<text x="560.60" y="465.70" textLength="40.00" lengthAdjust="spacingAndGlyphs" class="pl" font-size="9.6">287.2013</text>
<line x1="580.40" y1="469.60" x2="577.40" y2="477.70" stroke="#333" stroke-width="0.7"/>
<text x="616.20" y="474.10" textLength="39.90" lengthAdjust="spacingAndGlyphs" class="pl" font-size="9.6">313.2180</text>
<text x="692.20" y="428.10" textLength="39.60" lengthAdjust="spacingAndGlyphs" class="pl" font-size="9.6">347.2217</text>
<circle cx="710.80" cy="432.60" r="2.8" fill="#000"/>
</svg>
</body></html>
